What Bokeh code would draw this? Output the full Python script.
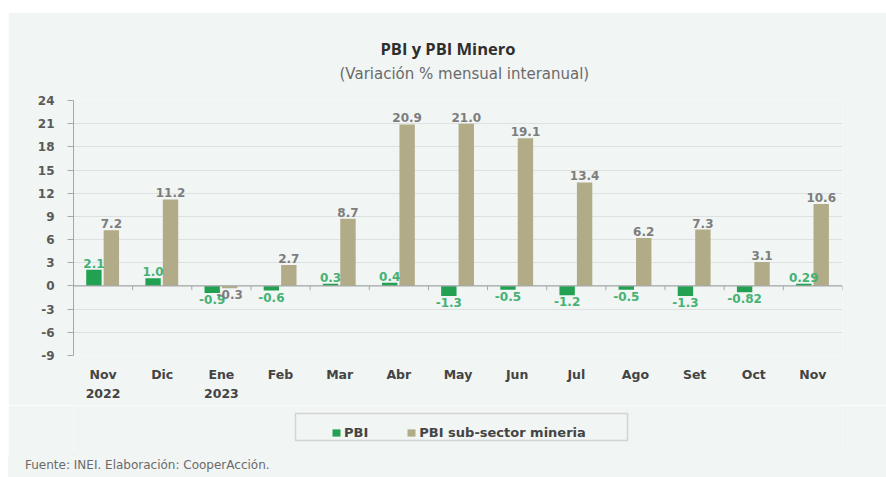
from bokeh.plotting import figure
from bokeh.layouts import column, row
from bokeh.models import (ColumnDataSource, Range1d, FixedTicker, Legend,
                          LegendItem, Span, Title, BoxAnnotation, Spacer, Div)
from bokeh.embed import file_html
from bokeh.resources import INLINE
from bokeh.core.properties import value

# ---- data ----
months = ["Nov\n2022", "Dic", "Ene\n2023", "Feb", "Mar", "Abr", "May", "Jun",
          "Jul", "Ago", "Set", "Oct", "Nov"]
pbi = [2.1, 1.0, -0.9, -0.6, 0.3, 0.4, -1.3, -0.5, -1.2, -0.5, -1.3, -0.82, 0.29]
pbi_minero = [7.2, 11.2, -0.3, 2.7, 8.7, 20.9, 21.0, 19.1, 13.4, 6.2, 7.3, 3.1, 10.6]
y_ticks = list(range(-9, 25, 3))
series_names = ["PBI", "PBI sub-sector mineria"]
source_text = "Fuente: INEI. Elaboración: CooperAcción."

FONT = "DejaVu Sans"
TFONT = "Open Sans"
BG = "#f1f5f4"
GREEN = "#23a152"
BEIGE = "#b2ab88"
GREEN_TXT = "#45b274"
GRAY_TXT = "#7d7d7d"


def fmt(v):
    s = f"{v:.2f}"
    if s.endswith("0"):
        s = s[:-1]
    return s


n = len(months)
centers = [i + 0.5 for i in range(n)]
OFF_A, OFF_B, W = -0.155, 0.14, 0.26

src_a = ColumnDataSource(dict(
    x=[c + OFF_A for c in centers], top=pbi,
    lab=[fmt(v) for v in pbi],
    base=["bottom" if v >= 0 else "top" for v in pbi],
    yoff=[-2 if v >= 0 else 2 for v in pbi]))
src_b = ColumnDataSource(dict(
    x=[c + OFF_B for c in centers], top=pbi_minero,
    lab=[fmt(v) for v in pbi_minero],
    base=["bottom" if v >= 0 else "top" for v in pbi_minero],
    yoff=[-2 if v >= 0 else 2 for v in pbi_minero]))

W_FIG = 878
H_MAIN = 393
H_FOOT = 50
H_SRC = 22
LEFT, RIGHT = 65, 44

p = figure(width=W_FIG, height=H_MAIN, output_backend="svg", toolbar_location=None,
           x_range=Range1d(0, n), y_range=Range1d(y_ticks[0], y_ticks[-1]),
           min_border_left=LEFT, min_border_right=RIGHT, min_border_top=88,
           min_border_bottom=50)
p.background_fill_color = BG
p.border_fill_color = BG
p.outline_line_color = None

# grid
p.xgrid.grid_line_color = None
p.ygrid.grid_line_color = "#dde2e1"
p.ygrid.grid_line_width = 1

# y axis
p.yaxis.ticker = FixedTicker(ticks=y_ticks)
p.yaxis.major_label_overrides = {t: str(t) for t in y_ticks}
p.yaxis.axis_line_color = "#a5a9a8"
p.yaxis.major_tick_line_color = "#a5a9a8"
p.yaxis.major_tick_out = 6
p.yaxis.major_tick_in = 0
p.yaxis.minor_tick_line_color = None
p.yaxis.major_label_standoff = 13
p.yaxis.major_label_text_font = FONT
p.yaxis.major_label_text_font_size = "12px"
p.yaxis.major_label_text_font_style = "bold"
p.yaxis.major_label_text_color = "#5a5a5a"

# x axis
p.xaxis.ticker = FixedTicker(ticks=centers)
p.xaxis.major_label_overrides = {c: m for c, m in zip(centers, months)}
p.xaxis.axis_line_color = None
p.xaxis.major_tick_line_color = None
p.xaxis.minor_tick_line_color = None
p.xaxis.major_label_standoff = 5
p.xaxis.major_label_text_font = FONT
p.xaxis.major_label_text_font_size = "12.5px"
p.xaxis.major_label_text_font_style = "bold"
p.xaxis.major_label_text_color = "#444444"
p.xaxis.major_label_text_line_height = 1.3

# zero line with group ticks
p.add_layout(Span(location=0, dimension="width", line_color="#a5a9a8", line_width=1.2))
p.segment(x0=list(range(1, n + 1)), x1=list(range(1, n + 1)),
          y0=[0] * n, y1=[-0.55] * n, line_color="#a5a9a8", line_width=1)

# bars
p.vbar(x="x", top="top", bottom=0, width=W, source=src_a,
       fill_color=GREEN, line_color=None)
p.vbar(x="x", top="top", bottom=0, width=W, source=src_b,
       fill_color=BEIGE, line_color=None)

# value labels
p.text(x="x", y="top", text="lab", source=src_a, text_align="center",
       text_baseline="base", y_offset="yoff", text_font=value(FONT),
       text_font_size="12px", text_font_style="bold", text_color=GREEN_TXT)
p.text(x="x", y="top", text="lab", source=src_b, text_align="center",
       text_baseline="base", y_offset="yoff", text_font=value(FONT),
       text_font_size="12px", text_font_style="bold", text_color=GRAY_TXT)

# titles (subtitle first: closest to the plot)
p.add_layout(Title(text="(Variación % mensual interanual)", align="left",
                   offset=266, vertical_align="top", standoff=32,
                   text_font=FONT, text_font_size="15px",
                   text_font_style="normal", text_color="#6a6a6a"), "above")
p.add_layout(Title(text="PBI y PBI Minero", align="left", offset=307, standoff=-22,
                   text_font=TFONT, text_font_size="16.5px",
                   text_font_style="bold", text_color="#2e2e2e"), "above")

# ---- footer: legend (its frame lines up with the chart frame) ----
x0 = 8 + LEFT
x1 = 8 + W_FIG - RIGHT
f = figure(width=W_FIG, height=H_FOOT, output_backend="svg", toolbar_location=None,
           x_range=Range1d(x0, x1), y_range=Range1d(0, H_FOOT),
           min_border_left=LEFT, min_border_right=RIGHT, min_border_top=0,
           min_border_bottom=0, x_axis_type=None, y_axis_type=None)
f.background_fill_color = BG
f.border_fill_color = BG
f.outline_line_color = None
f.xgrid.grid_line_color = None
f.ygrid.grid_line_color = None

# off-screen stand-ins so the legend can show the series swatches
la = f.vbar(x=[0], top=[1], width=1, fill_color=GREEN, line_color=None)
lb = f.vbar(x=[0], top=[1], width=1, fill_color=BEIGE, line_color=None)

f.add_layout(BoxAnnotation(left=295, right=627, bottom=15, top=42,
                           fill_color=None, line_color="#8a8a8a", line_width=1.5))

legend = Legend(items=[LegendItem(label=series_names[0], renderers=[la]),
                       LegendItem(label=series_names[1], renderers=[lb])],
                location=(258, 15), orientation="horizontal",
                border_line_color=None, background_fill_alpha=0,
                padding=7, spacing=38, glyph_width=10, glyph_height=9,
                label_height=13, label_standoff=3, margin=0,
                label_text_font=FONT, label_text_font_size="13px",
                label_text_font_style="bold", label_text_color="#444444")
f.add_layout(legend)

src_div = Div(text=source_text, width=W_FIG, height=H_SRC, margin=0,
              styles={"background-color": BG, "font-family": FONT,
                      "font-size": "12px", "color": "#6a6a6a",
                      "padding-left": "17px", "padding-top": "3px",
                      "box-sizing": "border-box", "line-height": "14px"})

layout = column(Spacer(width=886, height=12, margin=0),
                row(Spacer(width=8, height=H_MAIN + H_FOOT + H_SRC, margin=0),
                    column(p, f, src_div, spacing=0), spacing=0),
                spacing=0)
open("out.html", "w").write(file_html(layout, INLINE))
